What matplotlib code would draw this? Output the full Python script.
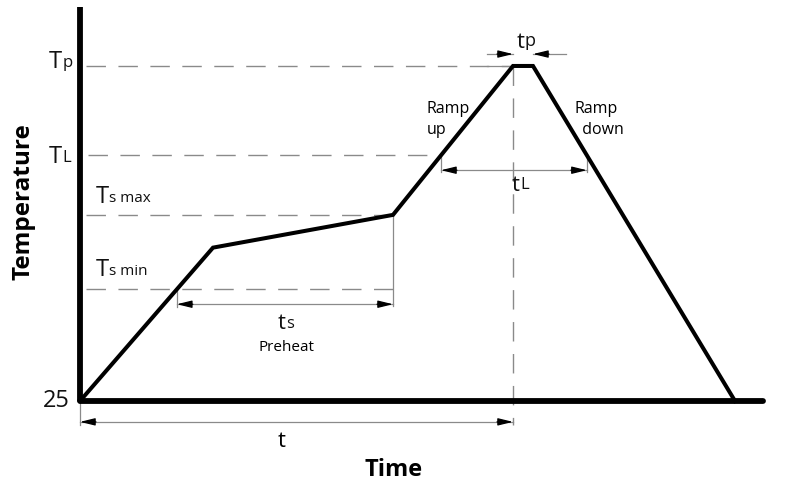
import matplotlib.pyplot as plt
import numpy as np

plt.rcParams['font.family'] = ['Open Sans', 'DejaVu Sans']

# reflow profile (schematic), time in s, temperature in degC
times = [0, 66.5, 156.5, 216.5, 226.5, 327.5]
temps = [25, 128, 150, 250, 250, 25]

T0 = 25
T_p = 250
T_L = 190
Ts_max = 150
Ts_min = 100

t_axis_end = 341.5
T_axis_top = 289.5

fig = plt.figure(figsize=(7.91, 4.92), dpi=100)
ax = fig.add_axes([0, 0, 1, 1])
ax.set_xlim(-40, 355.5)
ax.set_ylim(-36.1, 294.3)
ax.axis('off')

grey = '#8a8a8a'
dash = dict(color=grey, lw=1.0, dashes=(14, 9))

# crossing times
t_L_up = np.interp(T_L, temps[2:4], times[2:4])
t_L_down = np.interp(T_L, temps[4:6][::-1], times[4:6][::-1])
t_s_min = np.interp(Ts_min, temps[0:2], times[0:2])

# level lines
ax.plot([3, times[3]], [T_p, T_p], **dash)
ax.plot([4, t_L_up], [T_L, T_L], **dash)
ax.plot([3, times[2]], [Ts_max, Ts_max], **dash)
ax.plot([3, times[2]], [Ts_min, Ts_min], **dash)
ax.plot([times[3], times[3]], [T_p, T0 - 16], **dash)

# extension lines
thin = dict(color=grey, lw=0.9)
ax.plot([times[2], times[2]], [Ts_max, Ts_min - 11], **thin)
ax.plot([t_s_min, t_s_min], [Ts_min, Ts_min - 12], **thin)
ax.plot([t_L_up, t_L_up], [T_L, T_L - 11], **thin)
ax.plot([t_L_down, t_L_down], [T_L, T_L - 11], **thin)
ax.plot([0, 0], [T0, T0 - 16], **thin)
ax.plot([times[3] - 13, times[3]], [T_p, T_p], **thin)

head = dict(arrowstyle='-|>,head_length=0.9,head_width=0.22',
            color='black', lw=0.9, shrinkA=0, shrinkB=0)


def dim_line(x1, x2, y):
    ax.plot([x1, x2], [y, y], color=grey, lw=0.9)
    ax.annotate('', xy=(x1, y), xytext=(x1 + 8, y), arrowprops=head)
    ax.annotate('', xy=(x2, y), xytext=(x2 - 8, y), arrowprops=head)


dim_line(t_s_min, times[2], Ts_min - 10)
dim_line(t_L_up, t_L_down, T_L - 10)
dim_line(0, times[3], T0 - 14)

# t_p arrows
ax.plot([times[3] - 13, times[3]], [T_p + 8, T_p + 8], color=grey, lw=0.9)
ax.plot([times[4], times[4] + 16.5], [T_p + 8, T_p + 8], color=grey, lw=0.9)
ax.annotate('', xy=(times[3], T_p + 8), xytext=(times[3] - 8, T_p + 8), arrowprops=head)
ax.annotate('', xy=(times[4], T_p + 8), xytext=(times[4] + 8, T_p + 8), arrowprops=head)

# axes
ax.plot([0, t_axis_end], [T0, T0], color='black', lw=4.2, solid_capstyle='round')
ax.plot([0, 0], [T0, T_axis_top], color='black', lw=4.2, solid_capstyle='butt')

# profile
ax.plot(times, temps, color='black', lw=2.9, solid_joinstyle='miter')


def sub_label(x, y, main, sub, size=17, subsize=12, ha='left'):
    t = ax.text(x, y, main, fontsize=size, ha=ha, va='center', color='#111111')
    ax.annotate(sub, xy=(1.0, 0.12), xycoords=t, fontsize=subsize,
                ha='left', va='bottom', color='#111111')
    return t


sub_label(-15.5, T_p + 3, 'T', 'p')
sub_label(-15.5, T_L - 1, 'T', 'L')
sub_label(8, Ts_max + 12, 'T', 's max', subsize=11)
sub_label(8, Ts_min + 13, 'T', 's min', subsize=11)
ax.text(-5, T0, '25', fontsize=17, ha='right', va='center', color='#111111')

sub_label(218.5, T_p + 16, 't', 'p', size=16, subsize=13)
sub_label(216, T_L - 20, 't', 'L', size=16, subsize=12)
sub_label(99, Ts_min - 23, 't', 's', size=16, subsize=12)
ax.text(103.5, Ts_min - 39, 'Preheat', fontsize=11, ha='center', va='center')
ax.text(101, T0 - 27, 't', fontsize=16, ha='center', va='center')

ax.text(173.5, 214, 'Ramp\nup', fontsize=11.5, ha='left', va='center', linespacing=1.4)
ax.text(247, 214, 'Ramp\n  down', fontsize=11.5, ha='left', va='center', linespacing=1.4)

ax.text(-28, 159, 'Temperature', fontsize=17.5, fontweight='bold', rotation=90,
        ha='center', va='center')
ax.text(157, -21, 'Time', fontsize=17, fontweight='bold', ha='center', va='center')

fig.savefig('out.png', dpi=100)
